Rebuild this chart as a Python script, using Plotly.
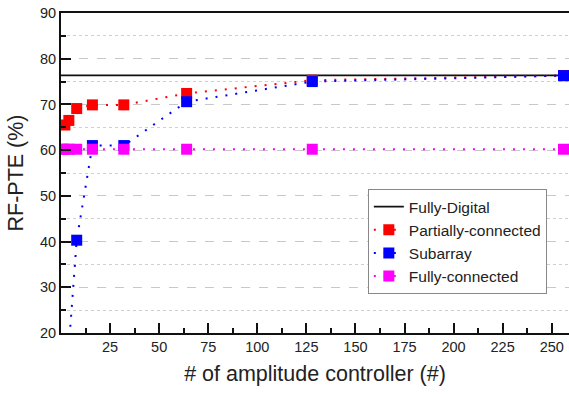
import plotly.graph_objects as go

# Data
amp_x = [1, 2, 4, 8, 16, 32, 64, 128, 256]
partially_x = [2, 4, 8, 16, 32, 64, 128, 256]
partially_y = [65.5, 66.5, 69.1, 69.9, 69.9, 72.4, 75.3, 76.3]
subarray_x = [4, 8, 16, 32, 64, 128, 256]
subarray_y = [17.0, 40.3, 61.0, 61.0, 70.6, 75.0, 76.3]
fullyconn_y = [60.2] * 9
fully_digital = 76.35
x_span = [0, 300]
x_ticks = [25, 50, 75, 100, 125, 150, 175, 200, 225, 250]

RED = "#FF0000"
BLUE = "#0000FF"
MAG = "#FF00FF"
DOT = "2px,8px"

fig = go.Figure()
fig.add_trace(go.Scatter(x=x_span, y=[fully_digital] * len(x_span), mode="lines",
                         name="Fully-Digital", line=dict(color="#111111", width=1.6)))
fig.add_trace(go.Scatter(x=partially_x, y=partially_y, mode="lines+markers",
                         name="Partially-connected",
                         line=dict(color=RED, width=2, dash=DOT),
                         marker=dict(symbol="square", size=11, color=RED)))
fig.add_trace(go.Scatter(x=subarray_x, y=subarray_y, mode="lines+markers",
                         name="Subarray",
                         line=dict(color=BLUE, width=2, dash=DOT),
                         marker=dict(symbol="square", size=11, color=BLUE)))
fig.add_trace(go.Scatter(x=amp_x, y=fullyconn_y, mode="lines+markers",
                         name="Fully-connected",
                         line=dict(color=MAG, width=2, dash=DOT),
                         marker=dict(symbol="square", size=11, color=MAG)))

font_family = "Liberation Sans, Arial, sans-serif"
fig.update_layout(
    width=569, height=396,
    margin=dict(l=61, r=0, t=13, b=63, autoexpand=False),
    paper_bgcolor="white", plot_bgcolor="white",
    font=dict(family=font_family, color="#222222", size=14.5),
    showlegend=True,
    legend=dict(x=0.604, y=0.45, xanchor="left", yanchor="top",
                bgcolor="white", bordercolor="#888888", borderwidth=1,
                font=dict(size=15.5, color="#222222"),
                tracegroupgap=0, itemwidth=30),
)
fig.update_xaxes(
    range=[0, 258.8], tickvals=x_ticks, ticktext=[str(v) for v in x_ticks],
    ticks="inside", ticklen=10, tickwidth=2, tickcolor="#111111",
    showline=True, linecolor="#111111", linewidth=2, mirror=True,
    showgrid=False, zeroline=False, automargin=False,
    minor=dict(tickvals=[12.5 + 25 * i for i in range(11)], ticks="inside",
               ticklen=5, tickwidth=2, tickcolor="#111111", showgrid=False),
    title=dict(text="# of amplitude controller (#)", font=dict(size=21.5), standoff=12),
    tickfont=dict(size=14.5),
)
fig.update_yaxes(
    range=[20, 90], dtick=10, tick0=20,
    ticks="inside", ticklen=10, tickwidth=2, tickcolor="#111111",
    showline=True, linecolor="#111111", linewidth=2, mirror=False,
    showgrid=True, gridcolor="#C8C8C8", gridwidth=1, griddash="dash",
    zeroline=False, automargin=False,
    minor=dict(dtick=5, ticks="inside", ticklen=5, tickwidth=2, tickcolor="#111111",
               showgrid=True, gridcolor="#D0D0D0", griddash="dot", gridwidth=1),
    title=dict(text="RF-PTE (%)", font=dict(size=21.5), standoff=10),
    tickfont=dict(size=14.5),
)

fig.write_html("out.html",
               config={"displayModeBar": False},
               post_script="document.body.style.margin='0';document.body.style.overflow='hidden';")
